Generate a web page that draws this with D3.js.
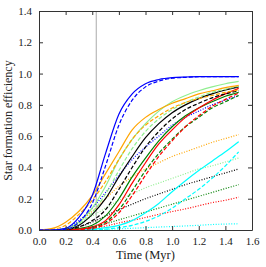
<!DOCTYPE html>
<html>
<head>
<meta charset="utf-8">
<script src="https://cdn.jsdelivr.net/npm/d3@7"></script>
<style>
  body { margin: 0; background: #fff; }
  #chart { width: 266px; height: 267px; }
  text { font-family: "Liberation Serif", "DejaVu Serif", serif; }
</style>
</head>
<body>
<div id="chart"></div>
<script>
// Star formation efficiency against time

// Shared time grid (Myr)
const times = [0.0, 0.1, 0.2, 0.3, 0.4, 0.5, 0.6, 0.7, 0.8, 0.9, 1.0, 1.1, 1.2, 1.3, 1.4, 1.5];

// One array per run, values on the time grid
const cyanDotted   = [0, 0, 0, 0, 0.002, 0.005, 0.008, 0.011, 0.015, 0.019, 0.022, 0.026, 0.03, 0.035, 0.038, 0.04];
const redDotted    = [0, 0, 0, 0.003, 0.012, 0.025, 0.045, 0.062, 0.08, 0.1, 0.118, 0.135, 0.155, 0.175, 0.19, 0.21];
const dgreenDotted = [0, 0, 0, 0.005, 0.02, 0.04, 0.065, 0.09, 0.115, 0.14, 0.165, 0.19, 0.215, 0.24, 0.265, 0.29];
const blackDotted  = [0, 0, 0.005, 0.02, 0.05, 0.09, 0.13, 0.165, 0.2, 0.23, 0.26, 0.29, 0.315, 0.34, 0.365, 0.39];
const lgreenDotted = [0, 0, 0.01, 0.04, 0.09, 0.14, 0.19, 0.23, 0.27, 0.3, 0.33, 0.36, 0.39, 0.41, 0.435, 0.46];
const orangeDotted = [0, 0, 0.01, 0.05, 0.12, 0.2, 0.28, 0.34, 0.39, 0.43, 0.47, 0.5, 0.53, 0.56, 0.585, 0.61];
const blueDotted   = [0, 0, 0.01, 0.06, 0.14, 0.24, 0.35, 0.45, 0.53, 0.6, 0.67, 0.72, 0.76, 0.8, 0.83, 0.86];
const cyanDashed   = [0, 0, 0, 0, 0.002, 0.005, 0.015, 0.03, 0.055, 0.09, 0.14, 0.2, 0.26, 0.33, 0.41, 0.5];
const cyanSolid    = [0, 0, 0, 0, 0.005, 0.015, 0.03, 0.06, 0.11, 0.17, 0.245, 0.315, 0.38, 0.44, 0.5, 0.565];
const dgreenDashed = [0, 0, 0, 0.005, 0.015, 0.05, 0.13, 0.25, 0.38, 0.49, 0.58, 0.66, 0.72, 0.78, 0.82, 0.86];
const dgreenSolid  = [0, 0, 0.003, 0.01, 0.03, 0.09, 0.2, 0.34, 0.46, 0.57, 0.66, 0.73, 0.78, 0.82, 0.855, 0.88];
const redDashed    = [0, 0, 0, 0.003, 0.01, 0.04, 0.11, 0.22, 0.35, 0.47, 0.57, 0.66, 0.73, 0.79, 0.835, 0.875];
const redSolid     = [0, 0, 0, 0.005, 0.02, 0.06, 0.16, 0.3, 0.43, 0.55, 0.64, 0.72, 0.78, 0.83, 0.87, 0.905];
const blackDashed  = [0, 0, 0.003, 0.02, 0.06, 0.13, 0.26, 0.4, 0.53, 0.63, 0.71, 0.77, 0.81, 0.845, 0.87, 0.89];
const blackSolid   = [0, 0, 0.005, 0.03, 0.1, 0.2, 0.34, 0.47, 0.59, 0.68, 0.75, 0.8, 0.84, 0.87, 0.895, 0.915];
const lgreenDashed = [0, 0, 0.005, 0.04, 0.11, 0.23, 0.38, 0.52, 0.63, 0.71, 0.77, 0.815, 0.85, 0.88, 0.9, 0.92];
const lgreenSolid  = [0, 0, 0.01, 0.05, 0.14, 0.28, 0.45, 0.58, 0.68, 0.76, 0.82, 0.86, 0.89, 0.915, 0.935, 0.95];
const orangeDashed = [0, 0.005, 0.03, 0.1, 0.19, 0.31, 0.45, 0.58, 0.67, 0.73, 0.78, 0.815, 0.84, 0.86, 0.88, 0.895];
const orangeSolid  = [0, 0.01, 0.05, 0.12, 0.22, 0.36, 0.5, 0.64, 0.72, 0.77, 0.81, 0.84, 0.87, 0.89, 0.91, 0.925];
const blueDashed   = [0, 0, 0.005, 0.05, 0.17, 0.41, 0.67, 0.83, 0.915, 0.952, 0.97, 0.976, 0.98, 0.98, 0.98, 0.98];
const blueSolid    = [0, 0, 0.01, 0.08, 0.22, 0.49, 0.74, 0.87, 0.935, 0.962, 0.974, 0.978, 0.98, 0.98, 0.98, 0.98];

// Draw order, colours and line styles
const series = [cyanDotted, redDotted, dgreenDotted, blackDotted, lgreenDotted, orangeDotted, blueDotted,
                cyanDashed, cyanSolid, dgreenDashed, dgreenSolid, redDashed, redSolid,
                blackDashed, blackSolid, lgreenDashed, lgreenSolid, orangeDashed, orangeSolid,
                blueDashed, blueSolid];
const colours = ["#00ffff", "#ff0000", "#008000", "#000000", "#90ee90", "#ffa500", "#0000ff",
                 "#00ffff", "#00ffff", "#008000", "#008000", "#ff0000", "#ff0000",
                 "#000000", "#000000", "#90ee90", "#90ee90", "#ffa500", "#ffa500",
                 "#0000ff", "#0000ff"];
const styles = ["dot", "dot", "dot", "dot", "dot", "dot", "dot",
                "dash", "solid", "dash", "solid", "dash", "solid",
                "dash", "solid", "dash", "solid", "dash", "solid",
                "dash", "solid"];

// Vertical marker and tick values
const markerTime = 0.43;
const xTicks = [0.0, 0.2, 0.4, 0.6, 0.8, 1.0, 1.2, 1.4, 1.6];
const yTicks = [0.0, 0.2, 0.4, 0.6, 0.8, 1.0, 1.2, 1.4];

let margin = { top: 11, right: 14, bottom: 37, left: 39 },
    width = 266, height = 267;

let svg = d3.select("#chart").append("svg")
    .attr("width", width)
    .attr("height", height);

let x = d3.scaleLinear().domain([0, 1.6]).range([margin.left, width - margin.right]);
let y = d3.scaleLinear().domain([0, 1.4]).range([height - margin.bottom, margin.top]);

// Grey vertical line
svg.append("line")
    .attr("x1", x(markerTime)).attr("x2", x(markerTime))
    .attr("y1", y(0)).attr("y2", y(1.4))
    .attr("stroke", "#aaaaaa")
    .attr("stroke-width", 1);

// Curves
let dashes = { solid: null, dash: "4,2", dot: "1,1.6" };
let line = d3.line()
    .x(function(d, i) { return x(times[i]); })
    .y(function(d) { return y(d); })
    .curve(d3.curveMonotoneX);
for ( let i = 0; i < series.length; i++ ) {
    svg.append("path")
        .datum(series[i])
        .attr("fill", "none")
        .attr("stroke", colours[i])
        .attr("stroke-width", 1.2)
        .attr("stroke-dasharray", dashes[styles[i]])
        .attr("d", line);
}

// Axes: ticks pointing inwards on all four sides
let fmt = d3.format(".1f");
svg.append("g")
    .attr("transform", "translate(0," + y(0) + ")")
    .call(d3.axisBottom(x).tickValues(xTicks).tickFormat(fmt).tickSizeInner(-4).tickSizeOuter(0).tickPadding(7));
svg.append("g")
    .attr("transform", "translate(0," + y(1.4) + ")")
    .call(d3.axisTop(x).tickValues(xTicks).tickFormat("").tickSizeInner(-4).tickSizeOuter(0));
svg.append("g")
    .attr("transform", "translate(" + x(0) + ",0)")
    .call(d3.axisLeft(y).tickValues(yTicks).tickFormat(fmt).tickSizeInner(-4).tickSizeOuter(0).tickPadding(7));
svg.append("g")
    .attr("transform", "translate(" + x(1.6) + ",0)")
    .call(d3.axisRight(y).tickValues(yTicks).tickFormat("").tickSizeInner(-4).tickSizeOuter(0));

svg.selectAll(".tick text")
    .style("font-size", "11px")
    .style("font-family", "'Liberation Serif', serif")
    .attr("fill", "#222");
svg.selectAll(".domain").attr("stroke", "#333");
svg.selectAll(".tick line").attr("stroke", "#333");

// Axis labels
svg.append("text").text("Time (Myr)")
    .attr("x", (x(0) + x(1.6)) / 2)
    .attr("y", height - 8)
    .attr("text-anchor", "middle")
    .style("font-size", "12.5px")
    .attr("fill", "#222");
svg.append("text").text("Star formation efficiency")
    .attr("transform", "translate(12," + (y(0) + y(1.4)) / 2 + ") rotate(-90)")
    .attr("text-anchor", "middle")
    .style("font-size", "12px")
    .attr("fill", "#222");
</script>
</body>
</html>
